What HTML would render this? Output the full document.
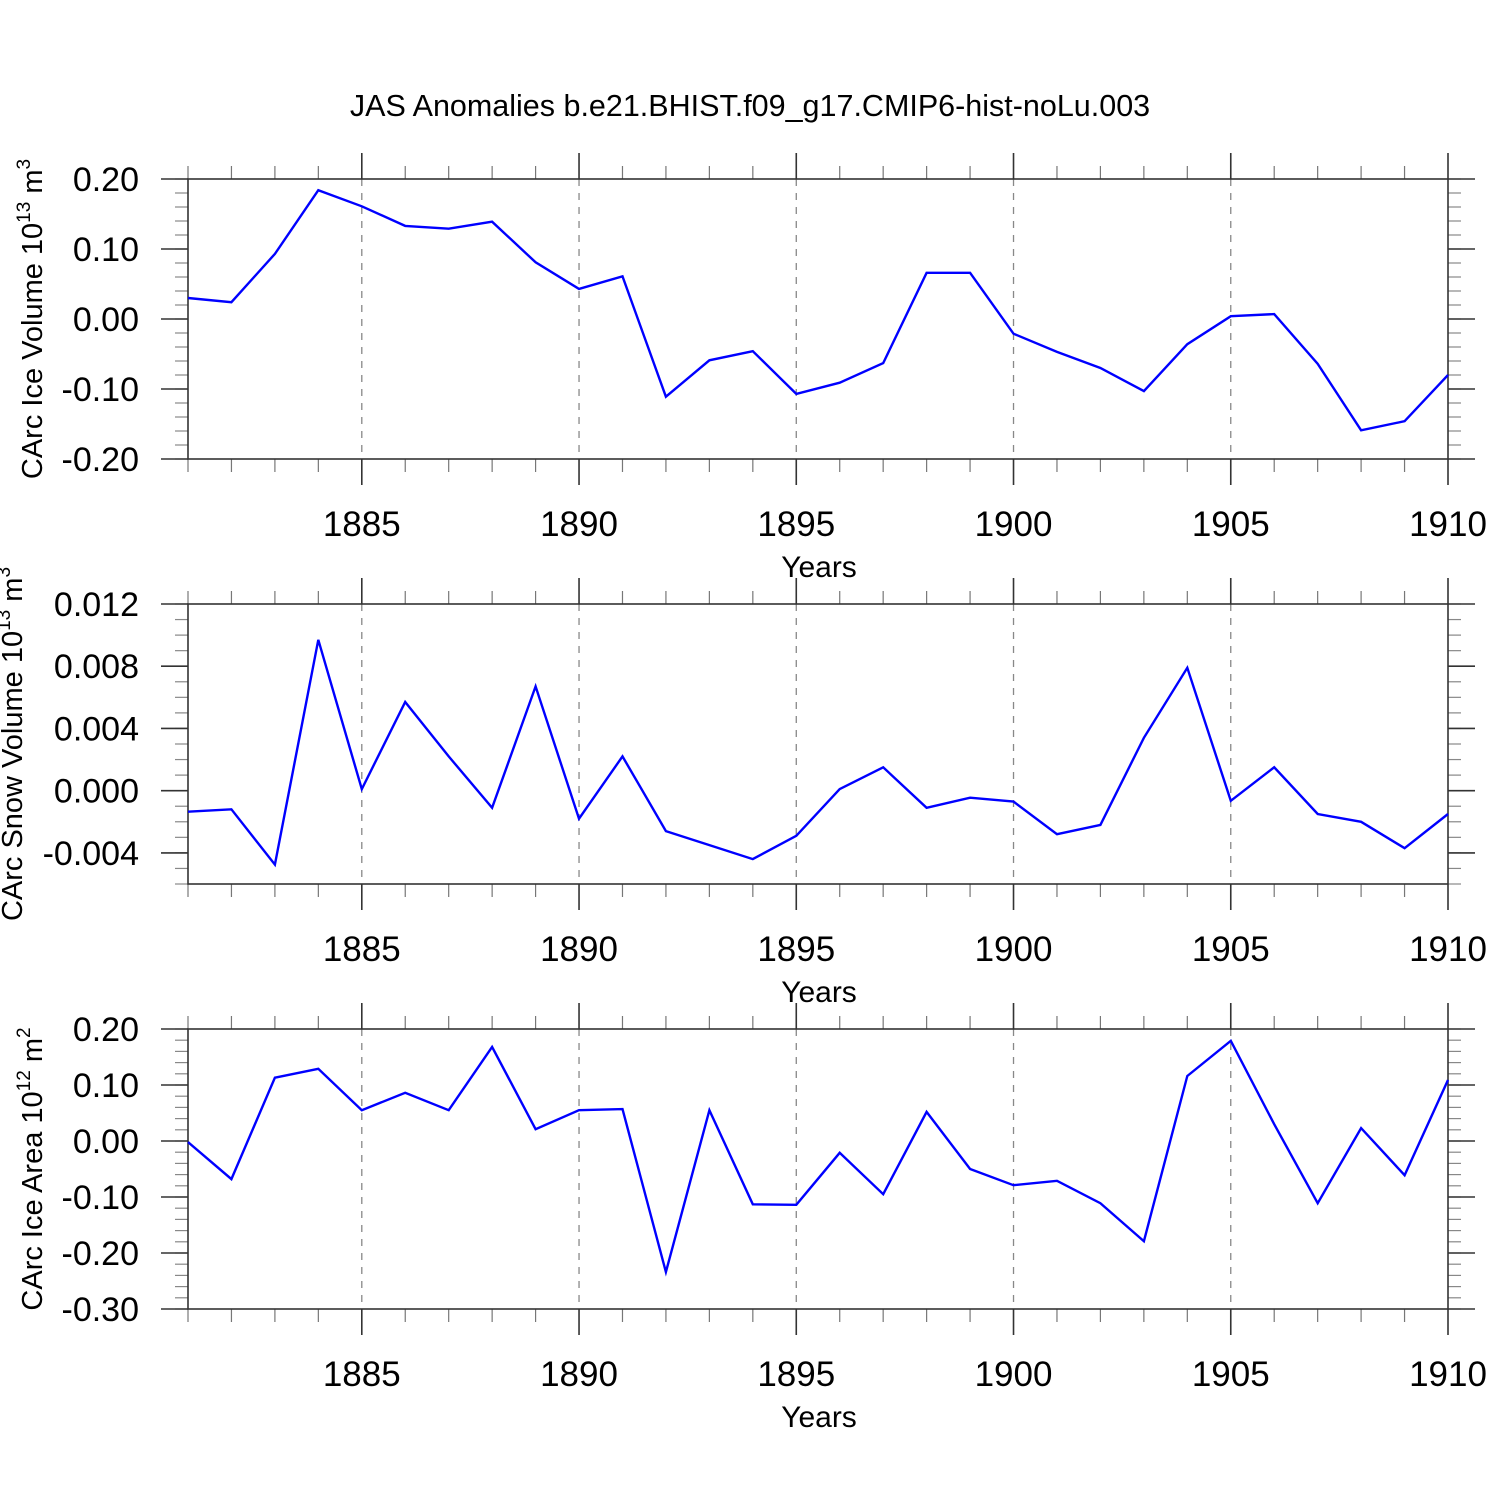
<!DOCTYPE html>
<html><head><meta charset="utf-8"><style>
html,body{margin:0;padding:0;background:#fff;}
svg{display:block;font-family:"Liberation Sans",sans-serif;}
</style></head><body>
<svg id="chart" width="1500" height="1500" viewBox="0 0 1500 1500" xmlns="http://www.w3.org/2000/svg">
<text x="750" y="116" font-size="30.5" text-anchor="middle">JAS Anomalies b.e21.BHIST.f09_g17.CMIP6-hist-noLu.003</text>
</svg>
<script>
const years = [1881,1882,1883,1884,1885,1886,1887,1888,1889,1890,1891,1892,1893,1894,1895,1896,1897,1898,1899,1900,1901,1902,1903,1904,1905,1906,1907,1908,1909,1910];
const xTickLabels = [1885,1890,1895,1900,1905,1910];
const iceVolume = [0.030,0.024,0.093,0.184,0.161,0.133,0.129,0.139,0.081,0.043,0.061,-0.111,-0.059,-0.046,-0.107,-0.091,-0.063,0.066,0.066,-0.021,-0.047,-0.070,-0.103,-0.036,0.004,0.007,-0.064,-0.159,-0.146,-0.080];
const snowVolume = [-0.00135,-0.0012,-0.00475,0.0097,0.0001,0.0057,0.0022,-0.0011,0.0067,-0.0018,0.0022,-0.0026,-0.0035,-0.0044,-0.0029,0.0001,0.0015,-0.0011,-0.00045,-0.0007,-0.0028,-0.0022,0.0034,0.0079,-0.00065,0.0015,-0.0015,-0.0020,-0.0037,-0.0015];
const iceArea = [-0.002,-0.068,0.113,0.129,0.055,0.086,0.055,0.168,0.021,0.055,0.057,-0.234,0.055,-0.113,-0.114,-0.021,-0.095,0.052,-0.050,-0.079,-0.071,-0.111,-0.179,0.116,0.179,0.030,-0.111,0.023,-0.061,0.109];
const iceVolTicks = ["0.20","0.10","0.00","-0.10","-0.20"];
const snowTicks = ["0.012","0.008","0.004","0.000","-0.004"];
const areaTicks = ["0.20","0.10","0.00","-0.10","-0.20","-0.30"];

const NS="http://www.w3.org/2000/svg";
const svg=document.getElementById('chart');
const X0=188,X1=1448;
function xs(yr){return X0+(yr-years[0])/(years[years.length-1]-years[0])*(X1-X0);}
function mk(tag,attrs,parent){const e=document.createElementNS(NS,tag);for(const k in attrs)e.setAttribute(k,attrs[k]);(parent||svg).appendChild(e);return e;}

function panel(id,top,bottom,ymin,ymax,ticks,minorStep,vals,title,titleX){
  const g=mk('g',{});
  
  
  const ys=v=>bottom-(v-ymin)/(ymax-ymin)*(bottom-top);
  xTickLabels.forEach(yr=>{ if(yr<years[years.length-1]){
    const l=mk('line',{x1:xs(yr),x2:xs(yr),y1:top,y2:bottom,stroke:'#888','stroke-width':1.3,'stroke-dasharray':'7,7'},g);
    
    
  }});
  years.forEach(yr=>{
    const maj=xTickLabels.includes(yr);
    const len=maj?26:13;
    mk('line',{x1:xs(yr),x2:xs(yr),y1:top-len,y2:top,stroke:maj?'#333':'#777','stroke-width':maj?1.6:1.2},g);
    mk('line',{x1:xs(yr),x2:xs(yr),y1:bottom,y2:bottom+len,stroke:maj?'#333':'#777','stroke-width':maj?1.6:1.2},g);
  });
  const nMinor=Math.round((ymax-ymin)/minorStep);
  for(let i=0;i<=nMinor;i++){
    const v=ymin+i*minorStep;const y=ys(v);
    mk('line',{x1:X0-13,x2:X0,y1:y,y2:y,stroke:'#888','stroke-width':1.2},g);
    mk('line',{x1:X1,x2:X1+13,y1:y,y2:y,stroke:'#888','stroke-width':1.2},g);
  }
  ticks.forEach(t=>{
    const y=ys(parseFloat(t));
    mk('line',{x1:X0-27,x2:X0,y1:y,y2:y,stroke:'#333','stroke-width':1.6},g);
    mk('line',{x1:X1,x2:X1+27,y1:y,y2:y,stroke:'#333','stroke-width':1.6},g);
    const tx=mk('text',{x:139,y:y+12,'font-size':34,'text-anchor':'end'},g);
    tx.textContent=t;
    
    
  });
  mk('rect',{x:X0,y:top,width:X1-X0,height:bottom-top,fill:'none',stroke:'#333','stroke-width':1.6},g);
  xTickLabels.forEach(yr=>{
    const tx=mk('text',{x:xs(yr),y:bottom+77,'font-size':35,'text-anchor':'middle'},g);
    tx.textContent=yr;
    
    
  });
  const xt=mk('text',{x:819,y:bottom+118,'font-size':30,'text-anchor':'middle'},g);
  xt.textContent='Years';
  
  
  const cy=(top+bottom)/2;
  const yt=mk('text',{x:0,y:0,'font-size':29,'text-anchor':'middle',transform:`translate(${titleX},${cy}) rotate(-90)`},g);
  yt.innerHTML=title;
  
  
  const pts=vals.map((v,i)=>xs(years[i]).toFixed(1)+','+ys(v).toFixed(1)).join(' ');
  const pl=mk('polyline',{points:pts,fill:'none',stroke:'#0000ff','stroke-width':2.4,'stroke-linejoin':'miter'},g);
  
  
}
const sup=(a,b)=>`10<tspan dy="-12" font-size="19">${a}</tspan><tspan dy="12"> m</tspan><tspan dy="-12" font-size="19">${b}</tspan>`;
panel('ice-volume',179,459,-0.20,0.20,iceVolTicks,0.02,iceVolume,'CArc Ice Volume '+sup(13,3),42);
panel('snow-volume',604,884,-0.006,0.012,snowTicks,0.001,snowVolume,'CArc Snow Volume '+sup(13,3),22);
panel('ice-area',1029,1309,-0.30,0.20,areaTicks,0.02,iceArea,'CArc Ice Area '+sup(12,2),42);
</script>
</body></html>
